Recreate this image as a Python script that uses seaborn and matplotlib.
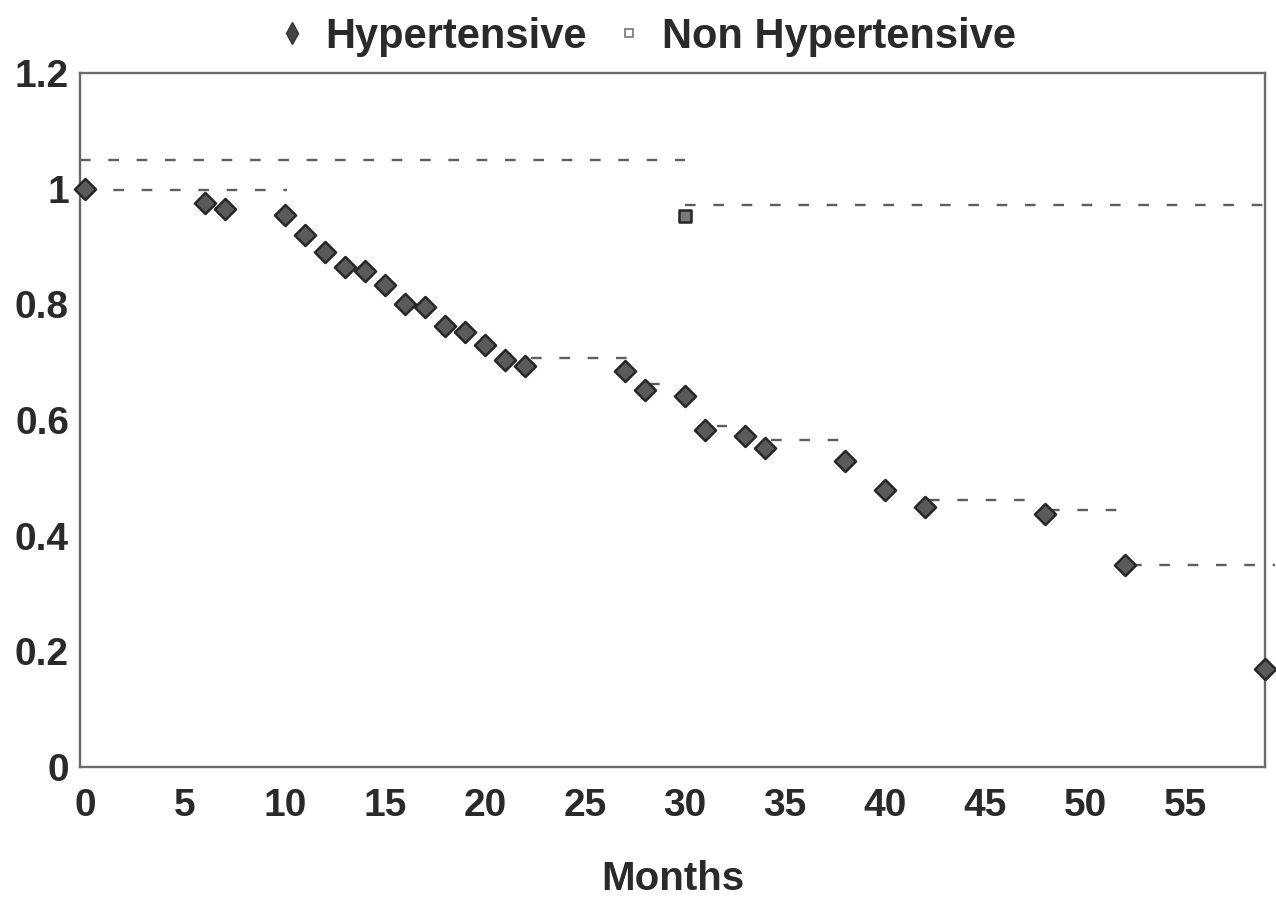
import matplotlib
matplotlib.use("Agg")
import matplotlib.pyplot as plt
from matplotlib.lines import Line2D
import seaborn as sns
import pandas as pd

# ---- data ----
hyp_months = [0, 6, 7, 10, 11, 12, 13, 14, 15, 16, 17, 18, 19, 20, 21, 22,
              27, 28, 30, 31, 33, 34, 38, 40, 42, 48, 52, 59]
hyp_surv = [1.00, 0.975, 0.965, 0.955, 0.92, 0.89, 0.865, 0.858, 0.833, 0.80,
            0.795, 0.763, 0.752, 0.73, 0.703, 0.693, 0.684, 0.652, 0.641,
            0.582, 0.572, 0.551, 0.529, 0.479, 0.45, 0.438, 0.35, 0.17]
nonhyp_months = [30]
nonhyp_surv = [0.952]

# dashed reference segments (start month, end month, level)
seg_x0 = [-0.25, 0, 30, 22.3, 28.2, 31.6, 34.3, 42.2, 48.2, 52.3]
seg_x1 = [30, 10.1, 59.5, 27.3, 29.4, 32.1, 38.4, 47.5, 52.1, 59.5]
seg_y = [1.05, 0.997, 0.972, 0.707, 0.663, 0.59, 0.566, 0.461, 0.444, 0.35]

x_ticks = [0, 5, 10, 15, 20, 25, 30, 35, 40, 45, 50, 55]
y_ticks = [0, 0.2, 0.4, 0.6, 0.8, 1.0, 1.2]
y_labels = ["0", "0.2", "0.4", "0.6", "0.8", "1", "1.2"]
series_names = ["Hypertensive", "Non Hypertensive"]

df_h = pd.DataFrame({"Months": hyp_months, "Survival": hyp_surv})
df_n = pd.DataFrame({"Months": nonhyp_months, "Survival": nonhyp_surv})

sns.set_theme(style="white")
plt.rcParams["font.family"] = ["Liberation Sans", "DejaVu Sans"]
plt.rcParams["font.weight"] = "bold"

W, H = 1276, 901
fig = plt.figure(figsize=(W / 100, H / 100), dpi=100)
ax = fig.add_axes([80 / W, 1 - 767 / H, (1265 - 80) / W, (767 - 73) / H])

# dashed segments
for x0, x1, y in zip(seg_x0, seg_x1, seg_y):
    ax.plot([x0, x1], [y, y], color="#5e5e5e", lw=1.7,
            linestyle=(0, (4.5, 7.5)), zorder=1, clip_on=False)

sns.scatterplot(data=df_h, x="Months", y="Survival", marker="D", s=115,
                color="#5a5a5a", edgecolor="#262626", linewidth=1.8,
                ax=ax, zorder=3, legend=False, clip_on=False)
sns.scatterplot(data=df_n, x="Months", y="Survival", marker="s", s=85,
                color="#7a7a7a", edgecolor="#262626", linewidth=1.8,
                ax=ax, zorder=3, legend=False, clip_on=False)

ax.set_xlim(-0.25, 59)
ax.set_ylim(0, 1.2)
ax.set_xticks(x_ticks)
ax.set_yticks(y_ticks)
ax.set_yticklabels(y_labels)
ax.tick_params(axis="both", length=0, labelsize=28, colors="#2a2a2a")
ax.tick_params(axis="x", pad=15)
ax.tick_params(axis="y", pad=8)
for lab in ax.get_xticklabels() + ax.get_yticklabels():
    lab.set_fontweight("bold")
ax.set_xlabel("Months", fontsize=29, fontweight="bold", color="#2a2a2a",
              labelpad=26)
ax.set_ylabel("")
for sp in ax.spines.values():
    sp.set_color("#6a6a6a")
    sp.set_linewidth(1.7)

handles = [
    Line2D([], [], marker="d", linestyle="none", markersize=11,
           markerfacecolor="#444444", markeredgecolor="#333333"),
    Line2D([], [], marker="s", linestyle="none", markersize=6,
           markerfacecolor="white", markeredgecolor="#777777",
           markeredgewidth=1.2),
]
leg = fig.legend(handles, series_names, loc="center",
                 bbox_to_anchor=(648 / W, 1 - 37 / H), ncol=2, frameon=False,
                 prop={"size": 30, "weight": "bold"}, handlelength=0.6,
                 handletextpad=0.5, columnspacing=0.7, borderpad=0.2)
for t in leg.get_texts():
    t.set_color("#2a2a2a")

fig.savefig("out.png", dpi=100, facecolor="white")
